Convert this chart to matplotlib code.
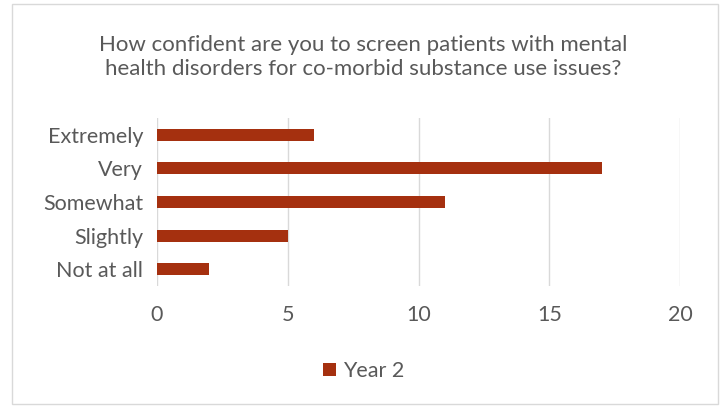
import matplotlib.pyplot as plt
from matplotlib.patches import Rectangle

categories = ['Extremely', 'Very', 'Somewhat', 'Slightly', 'Not at all']
year2 = [6, 17, 11, 5, 2]
xticks = [0, 5, 10, 15, 20]

plt.rcParams['font.family'] = ['Lato', 'DejaVu Sans']
grey = '#595959'
bar_color = '#A5300F'

fig = plt.figure(figsize=(7.27, 4.08), dpi=100)
fig.patches.append(Rectangle((12 / 727, 4 / 408), 706 / 727, 400 / 408,
                             transform=fig.transFigure, fill=False,
                             edgecolor='#D9D9D9', linewidth=1))

ax = fig.add_axes([157 / 727, 1 - 286 / 408, 523 / 727, 168 / 408])
ypos = list(range(len(categories)))
ax.barh(ypos, year2, height=0.36, color=bar_color, label='Year 2', zorder=3)
ax.set_ylim(len(categories) - 0.5, -0.5)
ax.set_xlim(0, 20)
ax.set_xticks(xticks)
ax.set_yticks(ypos)
ax.set_yticklabels(categories)
ax.grid(axis='x', color='#D9D9D9', linewidth=1, zorder=0)
for s in ax.spines.values():
    s.set_visible(False)
ax.tick_params(length=0, labelsize=15.5, colors=grey, pad=10)
ax.tick_params(axis='x', pad=14)

fig.text(0.5, 1 - 57 / 408,
         'How confident are you to screen patients with mental\nhealth disorders for co-morbid substance use issues?',
         ha='center', va='center', fontsize=16, color=grey, linespacing=1.3)

fig.legend(loc='center', bbox_to_anchor=(0.5, 1 - 371 / 408), frameon=False,
           fontsize=15.5, labelcolor=grey, handlelength=0.6, handleheight=0.6,
           handletextpad=0.3)

fig.savefig('out.png', dpi=100)
